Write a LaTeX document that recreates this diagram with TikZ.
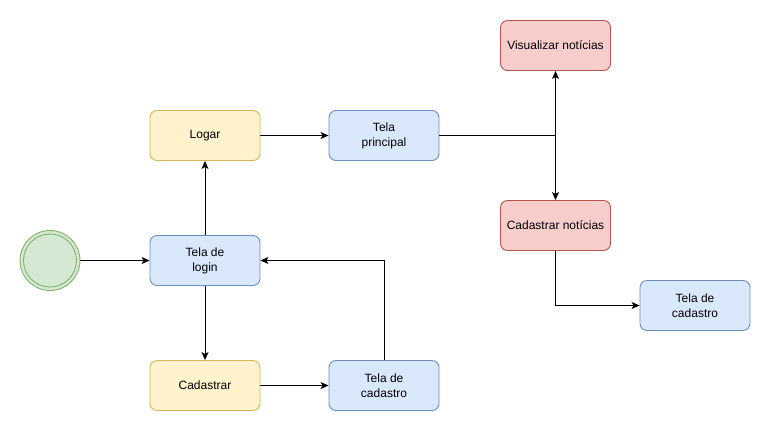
\documentclass[tikz,border=0pt]{standalone}
\usepackage{fontspec}
\setmainfont{Liberation Sans}
\usetikzlibrary{arrows.meta}
\definecolor{bluefill}{HTML}{DAE8FC}
\definecolor{bluedraw}{HTML}{6C8EBF}
\definecolor{yellowfill}{HTML}{FFF2CC}
\definecolor{yellowdraw}{HTML}{D6B656}
\definecolor{redfill}{HTML}{F8CECC}
\definecolor{reddraw}{HTML}{B85450}
\definecolor{greenfill}{HTML}{D5E8D4}
\definecolor{greendraw}{HTML}{82B366}
\tikzset{
  box/.style={rectangle, rounded corners=7pt, minimum width=110pt, minimum height=50pt,
    inner sep=0pt, align=center, line width=0.9pt, font=\fontsize{12}{15}\selectfont},
  bluebox/.style={box, fill=bluefill, draw=bluedraw},
  yellowbox/.style={box, fill=yellowfill, draw=yellowdraw},
  redbox/.style={box, fill=redfill, draw=reddraw},
  conn/.style={line width=1pt, -{Stealth[length=8pt,width=7pt,inset=2pt]}},
  plain/.style={line width=1pt}
}
\begin{document}
\begin{tikzpicture}[x=1pt,y=-1pt]
\useasboundingbox (0,0) rectangle (771,432);
\fill[white] (0,0) rectangle (771,432);
% start
\node[circle, minimum size=60pt, inner sep=0pt, fill=greenfill, draw=greendraw, line width=0.9pt] (start) at (50,260.5) {};
\draw[greendraw, line width=0.9pt] (start.center) circle (26.5pt);
% nodes
\node[bluebox] (login) at (205,260.5) {Tela de\\login};
\node[yellowbox] (logar) at (205,135.5) {Logar};
\node[yellowbox] (cadastrar) at (205,385.5) {Cadastrar};
\node[bluebox] (principal) at (384,135.5) {Tela\\principal};
\node[bluebox] (telacad) at (384,385.5) {Tela de\\cadastro};
\node[redbox] (visualizar) at (555.5,45.5) {Visualizar notícias};
\node[redbox] (cadnot) at (555.5,225.5) {Cadastrar notícias};
\node[bluebox] (telacad2) at (695,305.5) {Tela de\\cadastro};
\coordinate (junc) at (555.5,135.5);
% connectors
\draw[conn] (start) -- (login);
\draw[conn] (login) -- (logar);
\draw[conn] (login) -- (cadastrar);
\draw[conn] (logar) -- (principal);
\draw[conn] (cadastrar) -- (telacad);
\draw[conn] (telacad.north) |- (login.east);
\draw[plain] (principal.east) -- (junc);
\draw[conn] (junc) -- (visualizar.south);
\draw[conn] (junc) -- (cadnot.north);
\draw[conn] (cadnot.south) |- (telacad2.west);
\end{tikzpicture}
\end{document}
